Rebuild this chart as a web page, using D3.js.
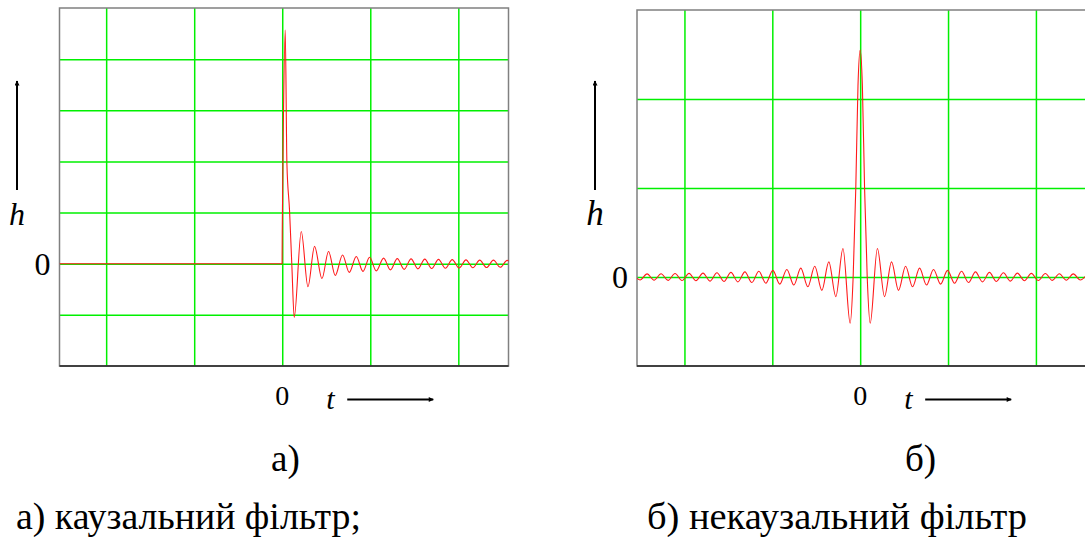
<!DOCTYPE html>
<html>
<head>
<meta charset="utf-8">
<script src="https://cdn.jsdelivr.net/npm/d3@7"></script>
</head>
<body style="margin:0">
<div id="chart-area"></div>
<script>
const width = 1085;
const height = 546;

// grid lines (t and h units)
const tGrid = [-2, -1, 0, 1, 2];
const hGridA = [-1, 0, 1, 2, 3, 4];
const hGridB = [0, 1, 2];

// а) causal filter - turning points
const causalT = [-2.53, -0.002, 0, 0.015, 0.034, 0.053, 0.083, 0.11, 0.136, 0.216, 0.292, 0.367,
    0.451, 0.526, 0.602, 0.685, 0.761, 0.841, 0.917, 0.992, 1.068, 1.151, 1.229, 1.307, 1.385,
    1.463, 1.541, 1.619, 1.697, 1.775, 1.853, 1.931, 2.009, 2.087, 2.165, 2.243, 2.321, 2.399,
    2.477, 2.555, 2.633];
const causalH = [0, 0, 0.62, 3.04, 4.57, 1.96, 1.04, -0.07, -1.05, 0.63, -0.45, 0.34,
    -0.29, 0.24, -0.23, 0.17, -0.17, 0.14, -0.15, 0.125, -0.14, 0.11, -0.12, 0.10, -0.11,
    0.095, -0.10, 0.09, -0.095, 0.085, -0.09, 0.08, -0.085, 0.075, -0.08, 0.07, -0.075, 0.07,
    -0.07, 0.065, -0.065];

// б) non-causal filter
const noncausalT = [-2.584, -2.505, -2.425, -2.346, -2.266, -2.187, -2.107, -2.028, -1.948, -1.869,
    -1.789, -1.710, -1.630, -1.551, -1.471, -1.392, -1.312, -1.233, -1.153, -1.074, -0.994, -0.915,
    -0.835, -0.755, -0.676, -0.596, -0.517, -0.436, -0.357, -0.277, -0.196, -0.114,
    -0.08, -0.05, -0.025, 0, 0.025, 0.05, 0.08,
    0.114, 0.196, 0.277, 0.357, 0.436, 0.517, 0.596, 0.676, 0.755, 0.835, 0.915, 0.994, 1.074,
    1.153, 1.233, 1.312, 1.392, 1.471, 1.551, 1.630, 1.710, 1.789, 1.869, 1.948, 2.028, 2.107,
    2.187, 2.266, 2.346, 2.425, 2.505, 2.584];
const noncausalH = [0.033, -0.034, 0.035, -0.036, 0.037, -0.038, 0.039, -0.04, 0.041, -0.042,
    0.044, -0.046, 0.048, -0.05, 0.052, -0.055, 0.058, -0.062, 0.065, -0.07, 0.075, -0.08,
    0.085, -0.09, 0.10, -0.11, 0.12, -0.15, 0.17, -0.22, 0.32, -0.52,
    0, 1.0, 2.15, 2.55, 2.15, 1.0, 0,
    -0.52, 0.32, -0.22, 0.17, -0.15, 0.12, -0.11, 0.10, -0.09, 0.085, -0.08, 0.075, -0.07,
    0.065, -0.062, 0.058, -0.055, 0.052, -0.05, 0.048, -0.046, 0.044, -0.042, 0.041, -0.04, 0.039,
    -0.038, 0.037, -0.036, 0.035, -0.034, 0.033];

const svg = d3.select("#chart-area")
    .append("svg")
    .attr("width", width)
    .attr("height", height);

svg.append("defs").append("marker")
    .attr("id", "arrow")
    .attr("viewBox", "0 0 10 10")
    .attr("refX", 9).attr("refY", 5)
    .attr("markerWidth", 7).attr("markerHeight", 5)
    .attr("markerUnits", "userSpaceOnUse")
    .attr("orient", "auto")
    .append("path")
    .attr("d", "M0,0L10,5L0,10z")
    .attr("fill", "#000");

// all texts go straight on the svg
function label(x, y, str, size, italic) {
    return svg.append("text")
        .attr("x", x).attr("y", y)
        .style("font-family", `"Liberation Serif"`)
        .style("font-size", `${size}px`)
        .style("font-style", italic ? "italic" : "normal")
        .text(str);
}

function panel(p) {
    const x = d3.scaleLinear().domain(p.tDomain).range(p.xRange);
    const y = d3.scaleLinear().domain(p.hDomain).range(p.yRange);
    const g = svg.append("g");
    const w = p.xRange[1] - p.xRange[0];
    const h = p.yRange[0] - p.yRange[1];

    g.append("clipPath").attr("id", p.id)
        .append("rect")
        .attr("x", p.xRange[0]).attr("y", p.yRange[1])
        .attr("width", w).attr("height", h);

    // grid
    const gx = g.append("g")
        .attr("transform", `translate(0,${p.yRange[0]})`)
        .call(d3.axisBottom(x).tickValues(tGrid).tickSize(-h).tickFormat(""));
    const gy = g.append("g")
        .attr("transform", `translate(${p.xRange[0]},0)`)
        .call(d3.axisLeft(y).tickValues(p.hGrid).tickSize(-w).tickFormat(""));
    [gx, gy].forEach(a => {
        a.select(".domain").remove();
        a.selectAll("text").remove();
        a.selectAll("line").attr("stroke", "#00f000").attr("stroke-width", 1.5);
    });

    // frame
    g.append("rect")
        .attr("x", p.xRange[0]).attr("y", p.yRange[1])
        .attr("width", w).attr("height", h)
        .attr("fill", "none").attr("stroke", "#808080").attr("stroke-width", 1.5);
    g.append("line")
        .attr("x1", p.xRange[0]).attr("x2", p.xRange[1])
        .attr("y1", p.yRange[0]).attr("y2", p.yRange[0])
        .attr("stroke", "#222").attr("stroke-width", 1.5);

    const line = d3.line()
        .x(d => x(d[0]))
        .y(d => y(d[1]))
        .curve(d3.curveMonotoneX);

    g.append("path")
        .datum(d3.zip(p.t, p.h))
        .attr("clip-path", `url(#${p.id})`)
        .attr("fill", "none")
        .attr("stroke", "#ff1a1a")
        .attr("stroke-width", 1.1)
        .attr("d", line);

    // vertical h arrow and label
    g.append("line")
        .attr("x1", p.hArrowX).attr("x2", p.hArrowX)
        .attr("y1", 190).attr("y2", 81)
        .attr("stroke", "#000").attr("stroke-width", 2)
        .attr("marker-end", "url(#arrow)");
    label(p.hArrowX, 225, "h", p.hSize, true).attr("text-anchor", "middle");
    label(p.xRange[0] - 9, y(0) + 11, "0", 32).attr("text-anchor", "end");

    // t axis label below
    label(x(0), 405, "0", 28).attr("text-anchor", "middle");
    label(x(0) + 44, 409, "t", 30, true);
    g.append("line")
        .attr("x1", x(0) + 65).attr("x2", x(0) + 151)
        .attr("y1", 399.5).attr("y2", 399.5)
        .attr("stroke", "#000").attr("stroke-width", 2)
        .attr("marker-end", "url(#arrow)");

    label(p.tagX, 471, p.tag, 37);
    label(p.capX, 529, p.caption, 37)
        .attr("textLength", p.capLen)
        .attr("lengthAdjust", "spacingAndGlyphs");
}

panel({
    id: "clipA",
    tDomain: [-2.53, 2.57], xRange: [59.5, 508.5],
    hDomain: [-2, 5], yRange: [366, 8],
    hGrid: hGridA, t: causalT, h: causalH,
    hArrowX: 17, hSize: 32,
    tagX: 271, tag: "а)",
    capX: 16, capLen: 345, caption: "а) каузальний фільтр;"
});

panel({
    id: "clipB",
    tDomain: [-2.54, 2.57], xRange: [637, 1086],
    hDomain: [-1, 3], yRange: [366, 10],
    hGrid: hGridB, t: noncausalT, h: noncausalH,
    hArrowX: 595, hSize: 35,
    tagX: 905, tag: "б)",
    capX: 647, capLen: 380, caption: "б) некаузальний фільтр"
});
</script>
</body>
</html>
